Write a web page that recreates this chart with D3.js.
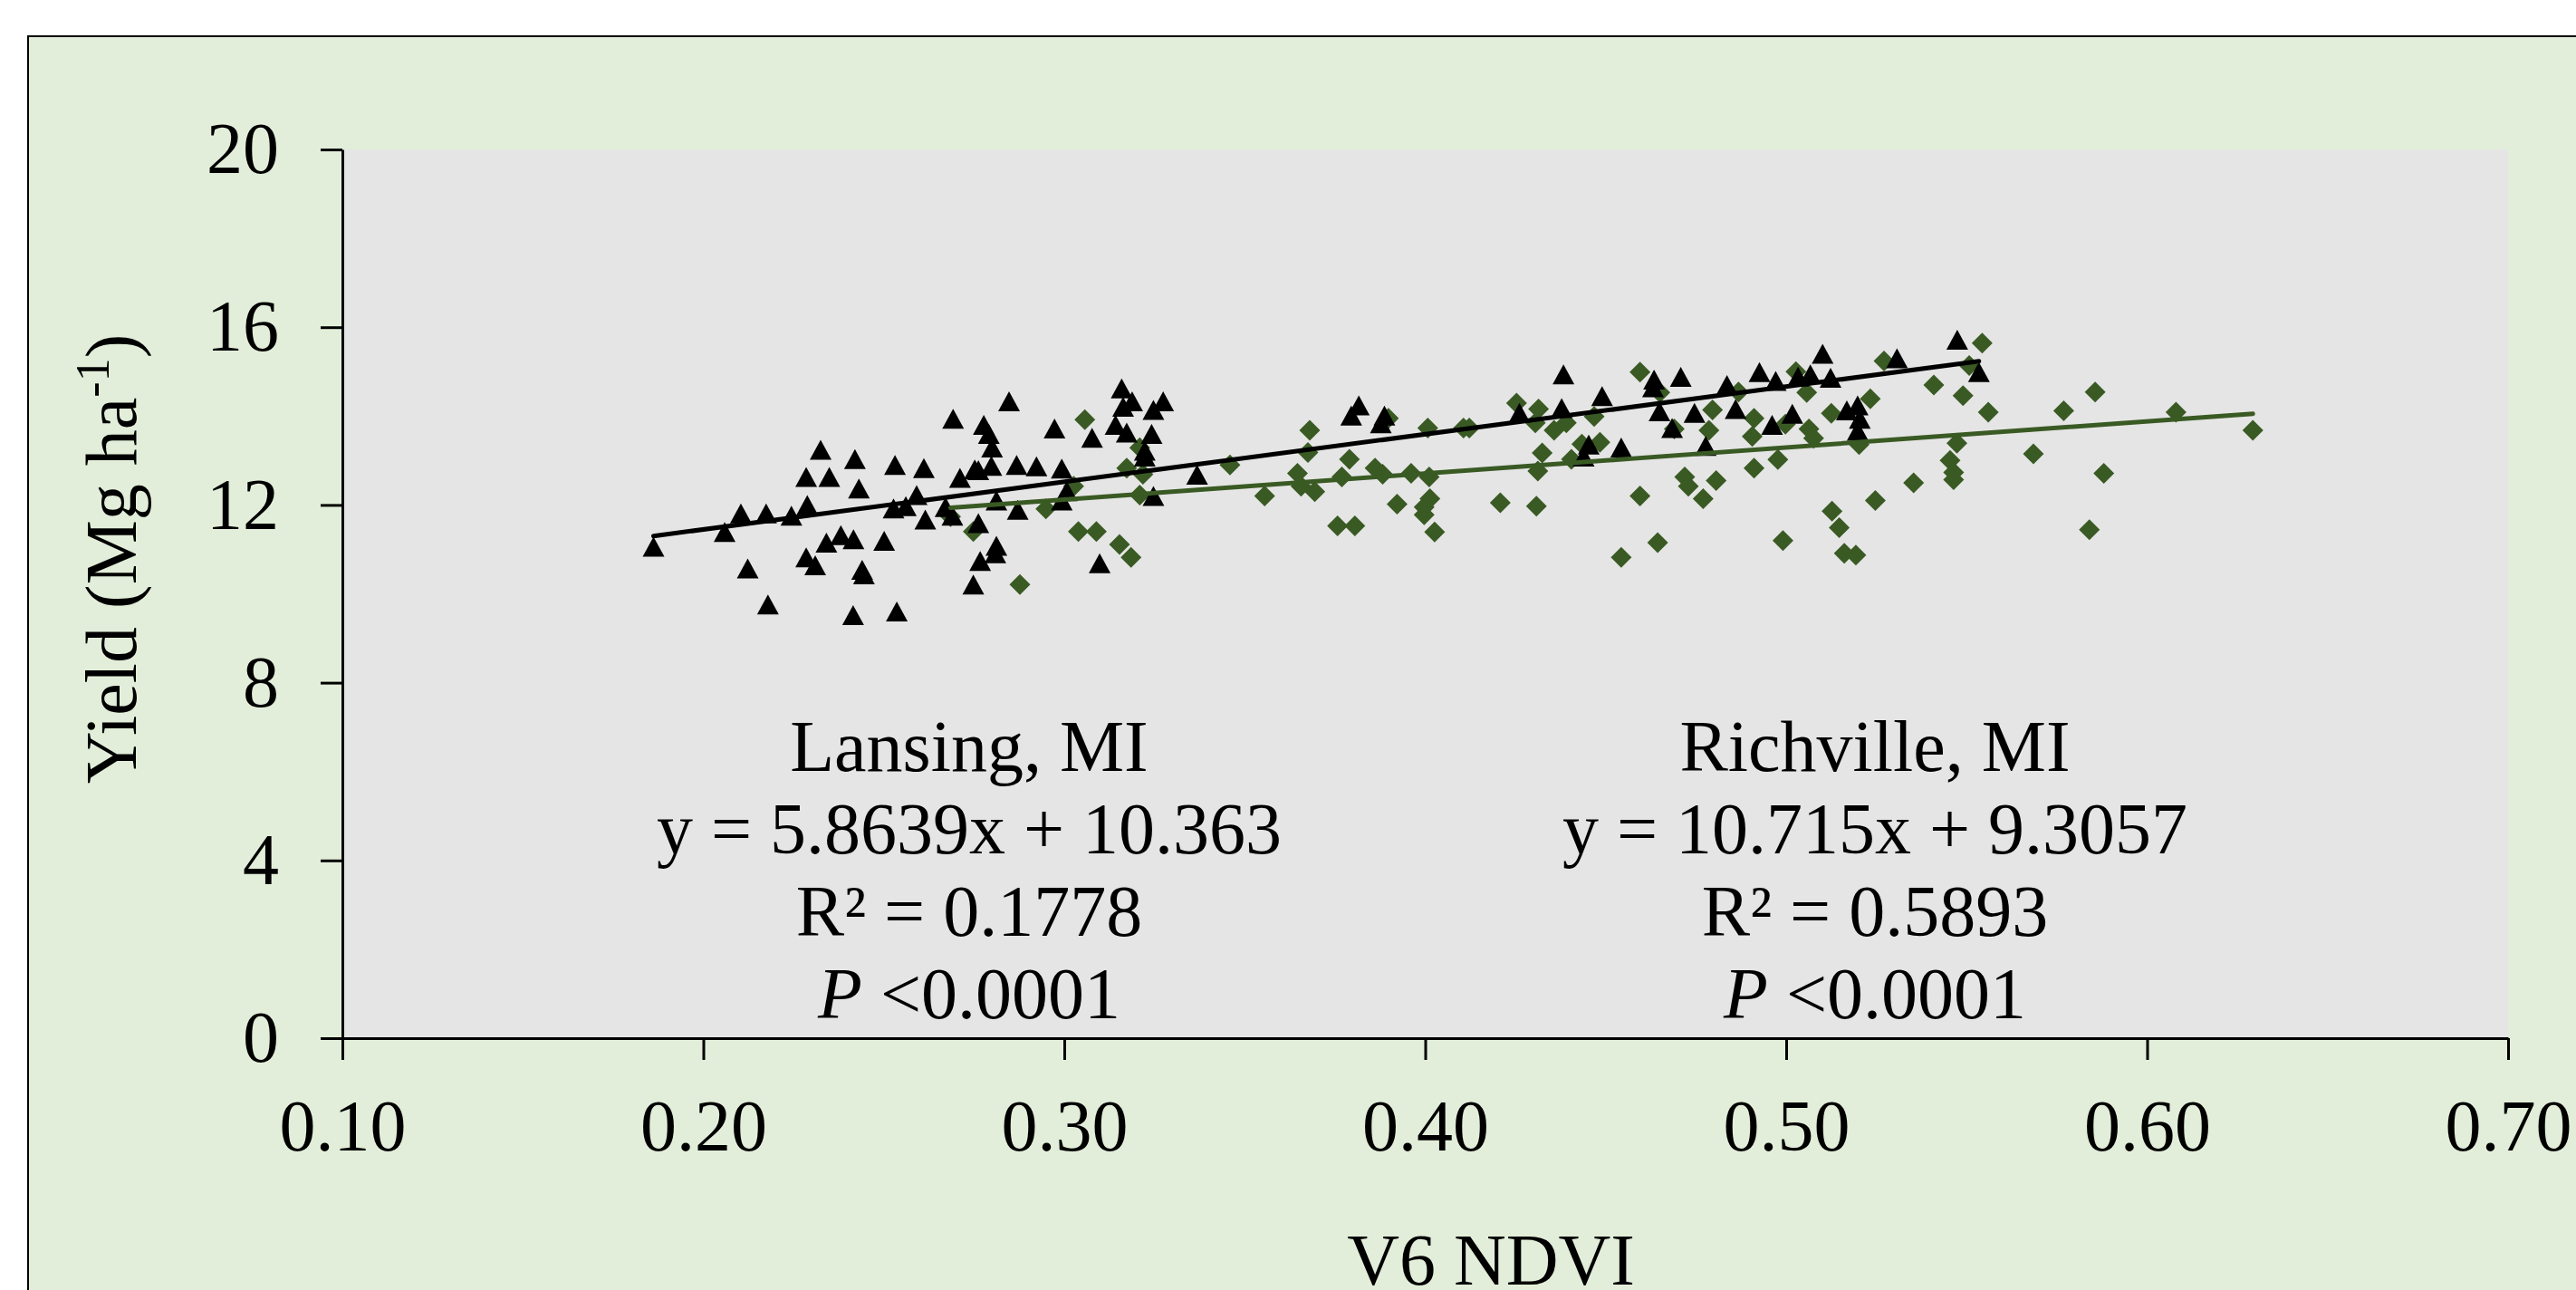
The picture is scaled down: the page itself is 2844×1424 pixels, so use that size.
<!DOCTYPE html>
<html>
<head>
<meta charset="utf-8">
<script src="https://cdn.jsdelivr.net/npm/d3@7"></script>
<style>
  body { margin: 0; background: #fff; }
  svg text { font-family: "Liberation Serif", "Times New Roman", serif; fill: #000; }
</style>
</head>
<body>
<svg id="chart"></svg>
<script>
// triangles (black) - V6 NDVI vs yield
var triNdvi = [0.1862,0.2059,0.2104,0.2174,0.2244,0.2288,0.2325,0.2285,0.2349,0.2420,
  0.2431,0.2531,0.2611,0.2527,0.2561,0.2591,0.2615,0.2671,0.2690,0.2692,
  0.2711,0.2752,0.2762,0.2777,0.2791,0.2800,0.2798,0.2847,0.2868,0.2923,
  0.2973,0.2993,0.3007,0.2993,0.2812,0.2871,0.2762,0.2812,0.2809,0.2767,
  0.2748,0.3098,0.3077,0.3159,0.3188,0.3163,0.3142,0.3173,0.3242,0.3223,
  0.3247,0.3247,0.3223,0.2123,0.2179,0.2285,0.2310,0.2341,0.2381,0.2416,
  0.2501,0.2440,0.2445,0.2415,0.2536,0.3274,0.3368,0.3816,0.3795,0.3887,
  0.3877,0.4261,0.4383,0.4378,0.4453,0.4439,0.4543,0.4490,0.4634,0.4631,
  0.4649,0.4684,0.4708,0.4746,0.4777,0.4836,0.4860,0.4926,0.4971,0.4961,
  0.5017,0.5033,0.5067,0.5101,0.5123,0.5168,0.5198,0.5204,0.5198,0.5307,
  0.5474,0.5534];
var triYield = [11.04,11.37,11.79,11.79,11.74,11.98,13.22,12.61,12.61,13.01,
  12.35,12.88,12.81,11.90,11.95,12.20,11.65,11.93,11.74,13.92,
  12.59,12.78,12.76,13.78,13.58,13.27,12.86,14.31,12.88,12.85,
  13.70,12.80,12.29,12.08,12.08,11.87,11.57,11.06,10.89,10.72,
  10.19,10.67,13.49,14.60,14.31,14.19,13.78,13.61,13.58,13.20,
  14.12,12.18,13.07,10.55,9.74,10.80,10.62,11.13,11.30,11.21,
  11.17,10.52,10.42,9.50,9.58,14.31,12.66,14.22,13.99,13.99,
  13.82,14.05,14.92,14.16,13.34,13.07,13.27,14.43,14.80,14.63,
  14.09,13.71,14.86,14.05,13.31,14.68,14.14,14.97,14.77,13.78,
  14.03,14.87,14.92,15.38,14.84,14.11,14.22,13.92,13.65,15.28,
  15.70,14.97];

// diamonds (green)
var diaNdvi = [0.2685,0.3057,0.2877,0.2748,0.2949,0.3026,0.3039,0.3089,0.3153,0.3185,
  0.3173,0.3218,0.3209,0.3209,0.3680,0.3675,0.3459,0.3555,0.3646,0.3656,
  0.3694,0.3769,0.3790,0.3861,0.3882,0.3961,0.4011,0.4007,0.4106,0.4122,
  0.3898,0.3757,0.3805,0.3922,0.4013,0.3997,0.3997,0.4026,0.4208,0.4308,
  0.4253,0.4314,0.4305,0.4357,0.4391,0.4324,0.4312,0.4405,0.4434,0.4484,
  0.4468,0.4595,0.4650,0.4595,0.4644,0.4543,0.4719,0.4729,0.4690,0.4796,
  0.4786,0.4868,0.4911,0.4906,0.4998,0.5027,0.5057,0.5063,0.5076,0.5125,
  0.5233,0.5202,0.5271,0.5409,0.5490,0.5507,0.5543,0.5560,0.5473,0.5454,
  0.5464,0.5464,0.5353,0.5247,0.5127,0.5147,0.5161,0.5193,0.4991,0.4806,
  0.4770,0.4911,0.4977,0.5685,0.5769,0.5856,0.5880,0.5840,0.6080,0.6293];
var diaYield = [11.74,13.92,10.21,11.40,11.91,12.42,11.40,11.40,11.11,10.82,
  12.83,12.69,12.22,13.29,13.68,13.18,12.90,12.20,12.71,12.42,
  12.30,12.63,13.03,12.83,12.69,12.71,12.63,13.73,13.73,13.73,
  13.95,11.53,11.53,12.02,12.14,11.95,11.78,11.39,12.05,11.97,
  14.29,14.16,13.85,13.68,13.85,13.17,12.76,13.03,13.37,13.41,
  13.99,14.99,14.53,12.20,11.15,10.82,12.63,12.42,13.71,14.14,
  13.68,14.54,13.95,13.54,13.82,15.00,14.53,13.71,13.50,14.06,
  14.39,13.36,15.24,14.70,14.46,15.14,15.64,14.09,13.39,13.00,
  12.73,12.57,12.50,12.10,11.86,11.49,10.91,10.87,11.20,12.55,
  12.14,12.83,13.02,13.15,14.12,14.54,12.71,11.44,14.09,13.68];

// fitted lines
var triFit = {slope: 10.715, icpt: 9.3057};
var diaFit = {slope: 5.8639, icpt: 10.363};

var xTicks = [0.1, 0.2, 0.3, 0.4, 0.5, 0.6, 0.7];
var yTicks = [0, 4, 8, 12, 16, 20];

var leftLabel = ["Lansing, MI", "y = 5.8639x + 10.363", "R² = 0.1778", "<0.0001"];
var rightLabel = ["Richville, MI", "y = 10.715x + 9.3057", "R² = 0.5893", "<0.0001"];

var width = 2844, height = 1424;
var plot = {left: 378, right: 2769, top: 165, bottom: 1146};
var green = "#3a5a24";

var svg = d3.select("#chart").attr("width", width).attr("height", height);

svg.append("rect").attr("width", width).attr("height", height).attr("fill", "#fff");
svg.append("rect")
  .attr("x", 31).attr("y", 40).attr("width", width).attr("height", height)
  .attr("fill", "#e2eed9").attr("stroke", "#000").attr("stroke-width", 2);

svg.append("rect")
  .attr("x", plot.left).attr("y", plot.top)
  .attr("width", plot.right - plot.left).attr("height", plot.bottom - plot.top)
  .attr("fill", "#e5e5e5");

var x = d3.scaleLinear().domain([0.1, 0.7]).range([plot.left, plot.right]);
var y = d3.scaleLinear().domain([0, 20]).range([plot.bottom, plot.top]);

var xAxis = svg.append("g")
  .attr("transform", "translate(0," + plot.bottom + ")")
  .call(d3.axisBottom(x).tickValues(xTicks).tickFormat(d3.format(".2f"))
    .tickSize(24).tickSizeOuter(0).tickPadding(43));
var yAxis = svg.append("g")
  .attr("transform", "translate(" + plot.left + ",0)")
  .call(d3.axisLeft(y).tickValues(yTicks).tickSize(24).tickSizeOuter(0).tickPadding(46));

[xAxis, yAxis].forEach(function(g) {
  g.selectAll("path, line").attr("stroke", "#000").attr("stroke-width", 3);
  g.selectAll("text").attr("font-size", 80).attr("font-family", null).attr("fill", "#000");
});

// trendlines
function fitLine(fit, xs) {
  var ext = d3.extent(xs);
  return ext.map(function(v) { return [v, fit.slope * v + fit.icpt]; });
}
var line = d3.line().x(function(d) { return x(d[0]); }).y(function(d) { return y(d[1]); });

// points
var triPath = "M0,-12L12,10L-12,10Z";
var diaPath = "M0,-11.5L11.5,0L0,11.5L-11.5,0Z";

svg.append("g").selectAll("path")
  .data(diaNdvi.map(function(v, i) { return [v, diaYield[i]]; }))
  .enter().append("path")
    .attr("d", diaPath)
    .attr("transform", function(d) { return "translate(" + x(d[0]) + "," + y(d[1]) + ")"; })
    .attr("fill", green);

svg.append("g").selectAll("path")
  .data(triNdvi.map(function(v, i) { return [v, triYield[i]]; }))
  .enter().append("path")
    .attr("d", triPath)
    .attr("transform", function(d) { return "translate(" + x(d[0]) + "," + y(d[1]) + ")"; })
    .attr("fill", "#000");

svg.append("path").datum(fitLine(diaFit, diaNdvi))
  .attr("d", line).attr("fill", "none").attr("stroke", green)
  .attr("stroke-width", 5).attr("stroke-linecap", "round");
svg.append("path").datum(fitLine(triFit, triNdvi))
  .attr("d", line).attr("fill", "none").attr("stroke", "#000")
  .attr("stroke-width", 5).attr("stroke-linecap", "round");

// regression text blocks
function block(lines, cx) {
  var g = svg.append("g").attr("font-size", 80).attr("text-anchor", "middle");
  lines.forEach(function(t, i) {
    var txt = g.append("text").attr("x", cx).attr("y", 851 + i * 91);
    if (i == 3) {
      txt.append("tspan").attr("font-style", "italic").text("P");
      txt.append("tspan").text(" " + t);
    } else {
      txt.text(t);
    }
  });
}
block(leftLabel, 1070);
block(rightLabel, 2070);

// axis titles
var yt = svg.append("text")
  .attr("transform", "translate(150,617) rotate(-90)")
  .attr("text-anchor", "middle").attr("font-size", 80);
yt.append("tspan").text("Yield (Mg ha");
yt.append("tspan").attr("font-size", 52).attr("dy", -30).text("-1");
yt.append("tspan").attr("dy", 30).text(")");

svg.append("text")
  .attr("x", 1646).attr("y", 1418)
  .attr("text-anchor", "middle").attr("font-size", 80)
  .text("V6 NDVI");
</script>
</body>
</html>
